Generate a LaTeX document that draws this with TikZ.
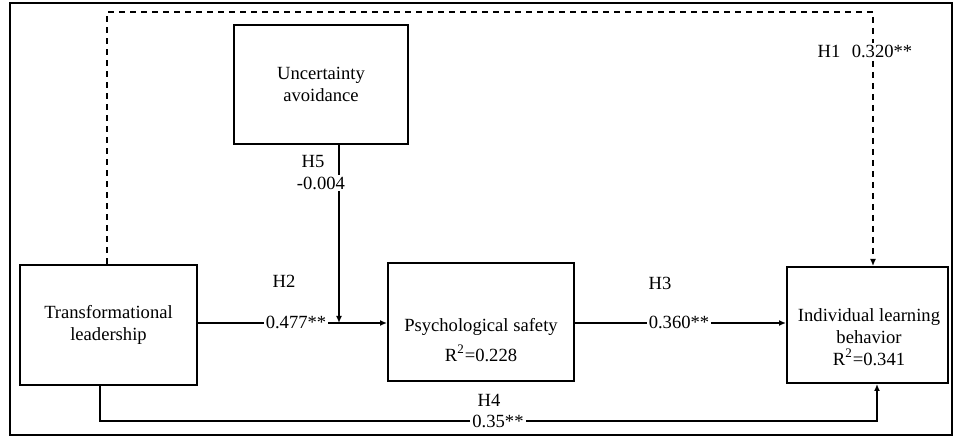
\documentclass[tikz,border=0pt]{standalone}
\usepackage{fontspec}
\setmainfont{Liberation Serif}
\usepackage{tikz}
\usetikzlibrary{arrows.meta, positioning}

\begin{document}
\begin{tikzpicture}[
    % GLOBAL CFG
    x=0.5pt, y=-0.5pt,
    font=\rmfamily\fontsize{9.3}{11}\selectfont,
    >={Latex[length=3.5pt,width=3pt]},
    % Styles
    construct/.style={% For the main boxes
        rectangle,
        draw,
        line width=1pt,
        align=center,
        },
    coef/.style={% For the path labels
        fill=white,
        inner sep=1pt,
        },
    ArrowC1/.style={% Solid paths
        line width=.75pt,
        },
    ArrowD1/.style={% Dashed path
        line width=.9pt,
        dash pattern=on 3pt off 2.5pt,
        }
    ]

\useasboundingbox (0,0) rectangle (954,437);
% Outer frame
\draw [line width=1pt] (10,3) rectangle (952,435);

% Draw the constructs
    \node [construct, minimum width=87pt, minimum height=59.5pt] (ua) at (321,84.5)
        {Uncertainty\\avoidance};
    \node [construct, minimum width=88.5pt, minimum height=60pt] (tl) at (108.5,325)
        {Transformational\\leadership};
    \node [construct, minimum width=93pt, minimum height=59pt] (ps) at (481,322) {};
    \node [construct, minimum width=80.5pt, minimum height=58pt] (il) at (867.5,325) {};

    % Texts inside the boxes
    \node [align=center] (pstxt) at (481,340) {Psychological safety\\[4pt]R\textsuperscript{2}=0.228};
    \node [align=center] (iltxt) at (869,337) {Individual learning\\behavior\\R\textsuperscript{2}=0.341};

    % Helper points
    \coordinate (h1top) at (873,12);
    \coordinate (mod) at (339,323);
    \coordinate (h4bot) at (877,421);

% Start connecting all.
    \draw [->, ArrowD1] (tl.north -| 107,0) |- (h1top) -- (h1top |- il.north);
    \draw [->, ArrowC1] (tl.east |- mod) -- (mod -| ps.west);
    \draw [->, ArrowC1] (ua.south -| mod) -- (mod);
    \draw [->, ArrowC1] (ps.east |- mod) -- (mod -| il.west);
    \draw [->, ArrowC1] (tl.south -| 100,0) |- (h4bot) -- (h4bot |- il.south);

% Path labels
    \node (h1) at (829,51) {H1};
    \node [coef] (c1) at (882,51) {0.320**};
    \node (h2) at (284,281) {H2};
    \node [coef] (c2) at (296,322) {0.477**};
    \node (h3) at (660,283) {H3};
    \node [coef] (c3) at (679,322) {0.360**};
    \node (h4) at (489,400) {H4};
    \node [coef] (c4) at (498,421) {0.35**};
    \node (h5) at (313,162) {H5};
    \node [coef] (c5) at (321,183) {-0.004};

\end{tikzpicture}
\end{document}
